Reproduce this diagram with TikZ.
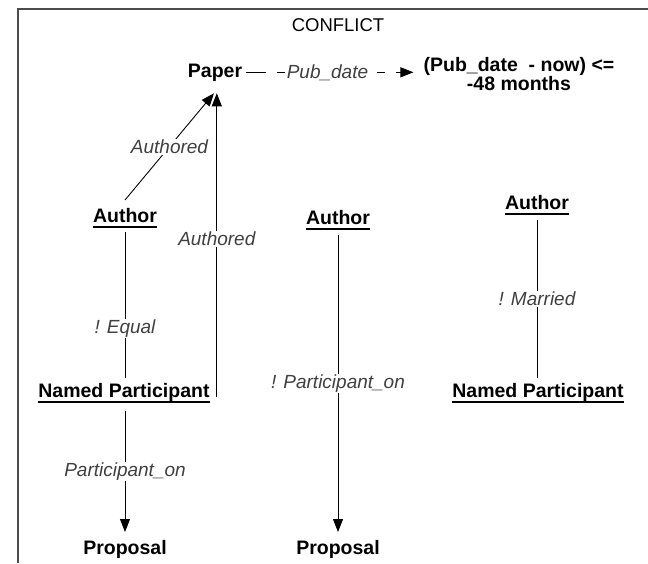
\documentclass[tikz,border=0pt]{standalone}
\usepackage{fontspec}
\setmainfont{Liberation Sans}
\usetikzlibrary{arrows.meta}
\begin{document}
\begin{tikzpicture}[x=1pt,y=-1pt,
  ent/.style={font=\fontsize{19.5}{19}\selectfont\bfseries, inner sep=0pt, anchor=base},
  lbl/.style={font=\fontsize{19}{20}\selectfont\itshape, text=black!75, fill=white, inner sep=1pt},
  rel/.style={line width=0.9pt},
  arr/.style={rel, -{Triangle[length=13pt,width=10pt]}},
  ul/.style={line width=1.6pt},
  frame/.style={line width=1.2pt, black!70}]
\useasboundingbox (0,0) rectangle (648,563);
\draw[frame] (18,563) -- (18,9) -- (648,9);

\node[inner sep=0pt, anchor=base, font=\fontsize{18.5}{18}\selectfont] (title) at (338,31) {CONFLICT};
\node[ent] (paper) at (215,77) {Paper};
\node[ent, anchor=center, align=center] (cond) at (519,74) {(Pub\_date\ \ - now) <=\\-48 months};

\node[ent] (authL) at (125,222) {Author};
\node[ent] (authM) at (338,224) {Author};
\node[ent] (authR) at (537,209) {Author};
\node[ent] (npL) at (124,397) {Named Participant};
\node[ent] (npR) at (538,397) {Named Participant};
\node[ent] (propL) at (125,554) {Proposal};
\node[ent] (propM) at (338,554) {Proposal};

\foreach \n in {authL,authM,authR,npL,npR}
  \draw[ul] ([yshift=-5pt]\n.base west) -- ([yshift=-5pt]\n.base east);

\coordinate (ptip) at ([xshift=-1pt,yshift=-12pt]paper.south);

% Pub_date
\draw[arr, dash pattern=on 20pt off 11pt on 8pt off 11pt, shorten <=4pt, shorten >=10pt]
  (paper.east) -- (paper.east -| cond.west) node[pos=0.47, lbl] {Pub\_date};

% Authored (diagonal)
\draw[arr] ([yshift=22pt]authL.base) -- (ptip) node[pos=0.5, lbl] {Authored};
% Authored (vertical)
\draw[arr] ([xshift=7pt]npL.base east) -- ([xshift=7pt]npL.base east |- ptip)
  node[pos=0.52, lbl] {Authored};

% ! Equal
\draw[rel] ([yshift=-10pt]authL.base) -- ([yshift=19pt]authL.base |- npL.base) node[pos=0.66, lbl] {! Equal};
% Participant_on
\draw[arr] ([yshift=-14pt]propL.base |- npL.base) -- ([yshift=22pt]propL.base) node[pos=0.5, lbl] {Participant\_on};
% ! Participant_on
\draw[arr] ([yshift=-11pt]authM.base) -- ([yshift=22pt]propM.base) node[midway, lbl] {! Participant\_on};
% ! Married
\draw[rel] ([yshift=-11pt]authR.base) -- ([yshift=19pt]authR.base |- npR.base) node[midway, lbl] {! Married};
\end{tikzpicture}
\end{document}
